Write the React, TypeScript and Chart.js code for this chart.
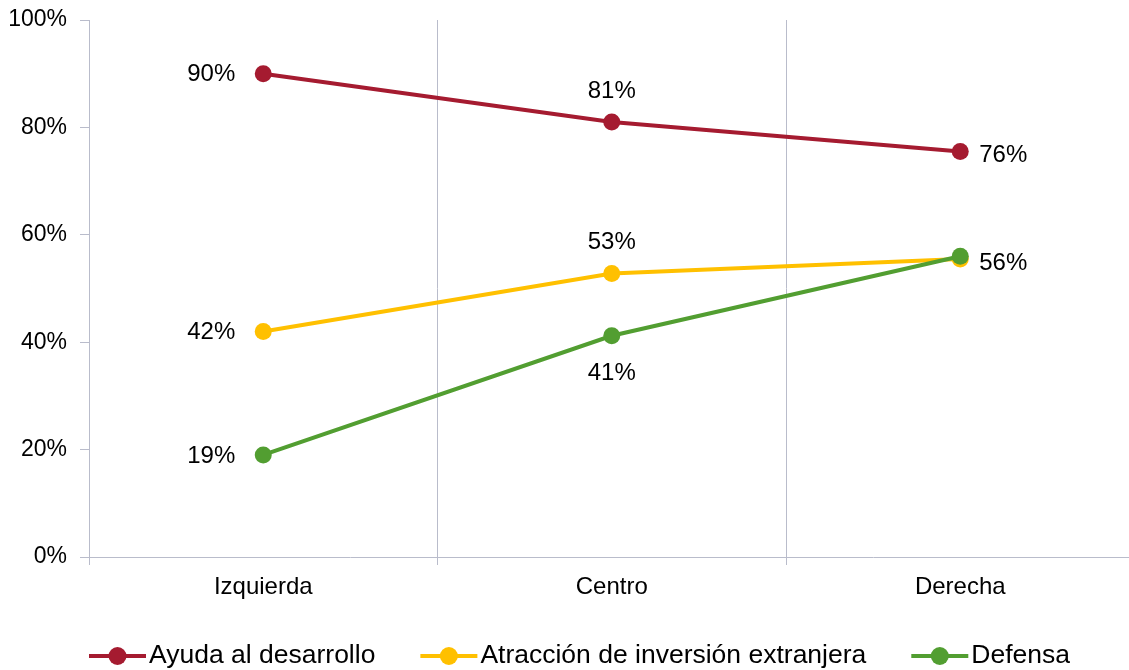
import { useEffect, useRef } from "react";
import { Chart, registerables } from "chart.js";

Chart.register(...registerables);

const categories = ["Izquierda", "Centro", "Derecha"];
const seriesNames = ["Ayuda al desarrollo", "Atracción de inversión extranjera", "Defensa"];
const ayudaValues = [90, 81, 75.5];
const atraccionValues = [42, 52.8, 55.5];
const defensaValues = [19, 41.2, 56];
const seriesColors = ["#A51B30", "#FFC000", "#529E31"];
const labelPositions: (string | null)[][] = [
  ["left", "top", "right"],
  ["left", "top", "right"],
  ["left", "bottom", null],
];
const yMin = 0;
const yMax = 100;
const yStep = 20;

const FONT = '"Liberation Sans", Arial, Helvetica, sans-serif';
const AXIS_COLOR = "#B9BCCB";

const pointLabelPlugin = {
  id: "pointLabels",
  afterDatasetsDraw(chart: any) {
    const ctx = chart.ctx;
    ctx.save();
    ctx.font = `24px ${FONT}`;
    ctx.fillStyle = "#000";
    chart.data.datasets.forEach((ds: any, di: number) => {
      const meta = chart.getDatasetMeta(di);
      meta.data.forEach((pt: any, i: number) => {
        const p = labelPositions[di][i];
        if (!p) return;
        const text = Math.round(ds.data[i]) + "%";
        let x = pt.x;
        let y = pt.y;
        ctx.textBaseline = "middle";
        if (p === "left") {
          ctx.textAlign = "right";
          x -= 28;
          y += 1;
        } else if (p === "right") {
          ctx.textAlign = "left";
          x += 19;
          y += 4;
        } else if (p === "top") {
          ctx.textAlign = "center";
          y -= 31;
        } else {
          ctx.textAlign = "center";
          y += 38;
        }
        ctx.fillText(text, x, y);
      });
    });
    ctx.restore();
  },
};

const legendPlugin = {
  id: "customLegend",
  afterDraw(chart: any) {
    const ctx = chart.ctx;
    ctx.save();
    ctx.font = `26.5px ${FONT}`;
    const markerW = 57;
    const gap = 3;
    const itemGap = 45;
    const legendY = 656;
    const widths = seriesNames.map((n) => markerW + gap + ctx.measureText(n).width);
    const total = widths.reduce((a, b) => a + b, 0) + itemGap * (widths.length - 1);
    let x = 579.5 - total / 2;
    seriesNames.forEach((name, i) => {
      const color = seriesColors[i];
      ctx.strokeStyle = color;
      ctx.lineWidth = 4;
      ctx.beginPath();
      ctx.moveTo(x, legendY);
      ctx.lineTo(x + markerW, legendY);
      ctx.stroke();
      ctx.fillStyle = color;
      ctx.beginPath();
      ctx.arc(x + markerW / 2, legendY, 9, 0, Math.PI * 2);
      ctx.fill();
      ctx.fillStyle = "#000";
      ctx.textAlign = "left";
      ctx.textBaseline = "middle";
      ctx.fillText(name, x + markerW + gap, legendY);
      x += widths[i] + itemGap;
    });
    ctx.restore();
  },
};

const CANVAS_W = 1143;

export default function App() {
  const canvasRef = useRef<HTMLCanvasElement | null>(null);

  useEffect(() => {
    document.body.style.overflow = "hidden";
    const canvas = canvasRef.current;
    if (!canvas) return;
    const values = [ayudaValues, atraccionValues, defensaValues];
    const orders = [0, 2, 1];
    const chart = new Chart(canvas, {
      type: "line",
      data: {
        labels: categories,
        datasets: seriesNames.map((name, i) => ({
          label: name,
          data: values[i],
          borderColor: seriesColors[i],
          backgroundColor: seriesColors[i],
          pointBackgroundColor: seriesColors[i],
          pointBorderWidth: 0,
          pointRadius: 8.5,
          borderWidth: 4,
          tension: 0,
          order: orders[i],
        })),
      },
      options: {
        animation: false,
        responsive: false,
        layout: { padding: { left: 0, top: 20, right: 0, bottom: 63 } },
        plugins: {
          legend: { display: false },
          tooltip: { enabled: false },
        },
        scales: {
          x: {
            type: "category",
            offset: true,
            grid: {
              offset: true,
              color: AXIS_COLOR,
              lineWidth: 1,
              drawTicks: true,
              tickLength: 8,
            },
            border: { color: AXIS_COLOR, width: 1 },
            ticks: {
              color: "#000",
              font: { family: FONT, size: 24 },
              padding: 8,
              maxRotation: 0,
            },
            afterFit(scale: any) {
              scale.height = 50;
              scale.paddingLeft = 0;
              scale.paddingRight = 0;
            },
          },
          y: {
            min: yMin,
            max: yMax,
            grid: {
              drawOnChartArea: false,
              drawTicks: true,
              tickLength: 9,
              color: AXIS_COLOR,
            },
            border: { color: AXIS_COLOR, width: 1 },
            ticks: {
              stepSize: yStep,
              color: "#000",
              font: { family: FONT, size: 23 },
              padding: 13,
              callback: (v: any) => v + "%",
            },
            afterFit(scale: any) {
              scale.width = 89;
              scale.paddingTop = 0;
              scale.paddingBottom = 0;
            },
          },
        },
      },
      plugins: [pointLabelPlugin, legendPlugin],
    });
    return () => chart.destroy();
  }, []);

  return (
    <div style={{ position: "fixed", left: 0, top: 0, width: CANVAS_W, height: 670, background: "#fff" }}>
      <canvas ref={canvasRef} width={CANVAS_W} height={670} />
    </div>
  );
}
